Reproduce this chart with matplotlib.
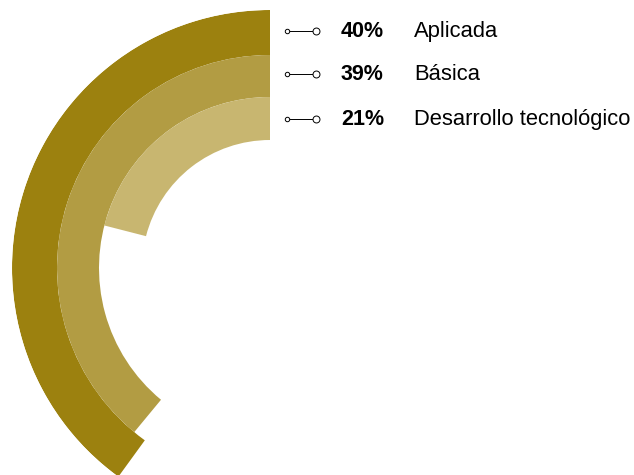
import numpy as np
import matplotlib.pyplot as plt

# datos
categorias = ['Aplicada', 'Básica', 'Desarrollo tecnológico']
porcentajes = [40, 39, 21]
colores = ['#9c810f', '#b29c43', '#c8b670']

W, H = 634, 475
cx, cy, rmax = 270, 268, 258
bases = [213, 171, 128]
alturas = [45, 42, 43]

fig = plt.figure(figsize=(W / 100, H / 100), dpi=100)

# anillos (polar)
ax = fig.add_axes([(cx - rmax) / W, (H - cy - rmax) / H, 2 * rmax / W, 2 * rmax / H],
                  projection='polar')
ax.set_theta_zero_location('N')
ax.set_theta_direction(1)
ang = np.array(porcentajes) / 100 * 2 * np.pi
ax.bar(np.zeros(3), alturas, width=ang, bottom=bases, align='edge',
       color=colores, edgecolor='none', linewidth=0)
ax.set_ylim(0, rmax)
ax.axis('off')

# leyenda
lg = fig.add_axes([0, 0, 1, 1])
lg.set_xlim(0, W)
lg.set_ylim(H, 0)
lg.axis('off')
ys = [31, 74, 119]
for y, p, c in zip(ys, porcentajes, categorias):
    lg.plot([287, 316], [y, y], color='black', lw=0.7)
    lg.plot([287], [y], 'o', ms=3.2, mfc='white', mec='black', mew=0.7)
    lg.plot([316], [y], 'o', ms=5, mfc='white', mec='black', mew=0.7)
    lg.text(341, y + 0.5, f'{p}%', fontsize=15.5, fontweight='bold', va='center',
            family='Liberation Sans')
    lg.text(414, y, c, fontsize=15.8, va='center', family='Liberation Sans')

fig.savefig('out.png', dpi=100)
